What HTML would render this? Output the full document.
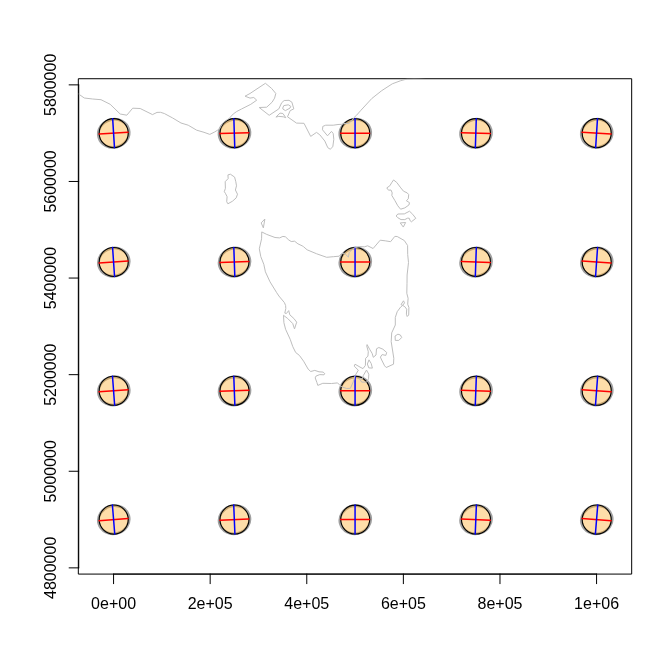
<!DOCTYPE html>
<html><head><meta charset="utf-8"><title>plot</title>
<style>html,body{margin:0;padding:0;background:#fff;}svg{display:block;will-change:transform;}text{font-family:"Liberation Sans",sans-serif;font-size:16px;fill:#000;}</style></head><body>
<svg width="672" height="672" viewBox="0 0 672 672">
<rect x="0" y="0" width="672" height="672" fill="#fff"/>
<g fill="none">
<ellipse cx="113.77" cy="133.31" rx="15.50" ry="14.00" transform="rotate(-15.0 113.77 133.31)" stroke="#a0a0a0" stroke-width="2.8"/>
<circle cx="113.72" cy="133.16" r="14.53" fill="rgb(252,170,40)" fill-opacity="0.4" stroke="#000" stroke-width="1.1"/>
<path d="M99.07 134.07L128.07 132.25" stroke="#f00" stroke-width="1.5" stroke-linecap="round"/>
<path d="M114.48 147.66L112.66 118.66" stroke="#00f" stroke-width="1.5" stroke-linecap="round"/>
<ellipse cx="234.52" cy="133.31" rx="15.50" ry="14.00" transform="rotate(-15.0 234.52 133.31)" stroke="#a0a0a0" stroke-width="2.8"/>
<circle cx="234.47" cy="133.16" r="14.50" fill="rgb(252,170,40)" fill-opacity="0.4" stroke="#000" stroke-width="1.1"/>
<path d="M219.83 133.62L248.81 132.70" stroke="#f00" stroke-width="1.5" stroke-linecap="round"/>
<path d="M234.78 147.65L233.86 118.67" stroke="#00f" stroke-width="1.5" stroke-linecap="round"/>
<ellipse cx="355.27" cy="133.31" rx="15.50" ry="14.00" transform="rotate(-15.0 355.27 133.31)" stroke="#a0a0a0" stroke-width="2.8"/>
<circle cx="355.22" cy="133.16" r="14.48" fill="rgb(252,170,40)" fill-opacity="0.4" stroke="#000" stroke-width="1.1"/>
<path d="M340.59 133.16L369.55 133.16" stroke="#f00" stroke-width="1.5" stroke-linecap="round"/>
<path d="M355.07 147.64L355.07 118.68" stroke="#00f" stroke-width="1.5" stroke-linecap="round"/>
<ellipse cx="476.02" cy="133.31" rx="15.50" ry="14.00" transform="rotate(-15.0 476.02 133.31)" stroke="#a0a0a0" stroke-width="2.8"/>
<circle cx="475.97" cy="133.16" r="14.50" fill="rgb(252,170,40)" fill-opacity="0.4" stroke="#000" stroke-width="1.1"/>
<path d="M461.33 132.70L490.31 133.62" stroke="#f00" stroke-width="1.5" stroke-linecap="round"/>
<path d="M475.36 147.65L476.28 118.67" stroke="#00f" stroke-width="1.5" stroke-linecap="round"/>
<ellipse cx="596.77" cy="133.31" rx="15.50" ry="14.00" transform="rotate(-15.0 596.77 133.31)" stroke="#a0a0a0" stroke-width="2.8"/>
<circle cx="596.72" cy="133.16" r="14.53" fill="rgb(252,170,40)" fill-opacity="0.4" stroke="#000" stroke-width="1.1"/>
<path d="M582.07 132.25L611.07 134.07" stroke="#f00" stroke-width="1.5" stroke-linecap="round"/>
<path d="M595.66 147.66L597.48 118.66" stroke="#00f" stroke-width="1.5" stroke-linecap="round"/>
<ellipse cx="113.77" cy="262.11" rx="15.50" ry="14.00" transform="rotate(-15.0 113.77 262.11)" stroke="#a0a0a0" stroke-width="2.8"/>
<circle cx="113.72" cy="261.96" r="14.53" fill="rgb(252,170,40)" fill-opacity="0.4" stroke="#000" stroke-width="1.1"/>
<path d="M99.08 262.95L128.06 260.97" stroke="#f00" stroke-width="1.5" stroke-linecap="round"/>
<path d="M114.56 276.45L112.58 247.47" stroke="#00f" stroke-width="1.5" stroke-linecap="round"/>
<ellipse cx="234.52" cy="262.11" rx="15.50" ry="14.00" transform="rotate(-15.0 234.52 262.11)" stroke="#a0a0a0" stroke-width="2.8"/>
<circle cx="234.47" cy="261.96" r="14.50" fill="rgb(252,170,40)" fill-opacity="0.4" stroke="#000" stroke-width="1.1"/>
<path d="M219.83 262.46L248.81 261.46" stroke="#f00" stroke-width="1.5" stroke-linecap="round"/>
<path d="M234.82 276.45L233.82 247.47" stroke="#00f" stroke-width="1.5" stroke-linecap="round"/>
<ellipse cx="355.27" cy="262.11" rx="15.50" ry="14.00" transform="rotate(-15.0 355.27 262.11)" stroke="#a0a0a0" stroke-width="2.8"/>
<circle cx="355.22" cy="261.96" r="14.48" fill="rgb(252,170,40)" fill-opacity="0.4" stroke="#000" stroke-width="1.1"/>
<path d="M340.59 261.96L369.55 261.96" stroke="#f00" stroke-width="1.5" stroke-linecap="round"/>
<path d="M355.07 276.44L355.07 247.48" stroke="#00f" stroke-width="1.5" stroke-linecap="round"/>
<ellipse cx="476.02" cy="262.11" rx="15.50" ry="14.00" transform="rotate(-15.0 476.02 262.11)" stroke="#a0a0a0" stroke-width="2.8"/>
<circle cx="475.97" cy="261.96" r="14.50" fill="rgb(252,170,40)" fill-opacity="0.4" stroke="#000" stroke-width="1.1"/>
<path d="M461.33 261.46L490.31 262.46" stroke="#f00" stroke-width="1.5" stroke-linecap="round"/>
<path d="M475.32 276.45L476.32 247.47" stroke="#00f" stroke-width="1.5" stroke-linecap="round"/>
<ellipse cx="596.77" cy="262.11" rx="15.50" ry="14.00" transform="rotate(-15.0 596.77 262.11)" stroke="#a0a0a0" stroke-width="2.8"/>
<circle cx="596.72" cy="261.96" r="14.53" fill="rgb(252,170,40)" fill-opacity="0.4" stroke="#000" stroke-width="1.1"/>
<path d="M582.08 260.97L611.06 262.95" stroke="#f00" stroke-width="1.5" stroke-linecap="round"/>
<path d="M595.58 276.45L597.56 247.47" stroke="#00f" stroke-width="1.5" stroke-linecap="round"/>
<ellipse cx="113.77" cy="390.91" rx="15.50" ry="14.00" transform="rotate(-15.0 113.77 390.91)" stroke="#a0a0a0" stroke-width="2.8"/>
<circle cx="113.72" cy="390.76" r="14.53" fill="rgb(252,170,40)" fill-opacity="0.4" stroke="#000" stroke-width="1.1"/>
<path d="M99.08 391.84L128.06 389.68" stroke="#f00" stroke-width="1.5" stroke-linecap="round"/>
<path d="M114.65 405.25L112.49 376.27" stroke="#00f" stroke-width="1.5" stroke-linecap="round"/>
<ellipse cx="234.52" cy="390.91" rx="15.50" ry="14.00" transform="rotate(-15.0 234.52 390.91)" stroke="#a0a0a0" stroke-width="2.8"/>
<circle cx="234.47" cy="390.76" r="14.50" fill="rgb(252,170,40)" fill-opacity="0.4" stroke="#000" stroke-width="1.1"/>
<path d="M219.83 391.30L248.81 390.22" stroke="#f00" stroke-width="1.5" stroke-linecap="round"/>
<path d="M234.86 405.25L233.78 376.27" stroke="#00f" stroke-width="1.5" stroke-linecap="round"/>
<ellipse cx="355.27" cy="390.91" rx="15.50" ry="14.00" transform="rotate(-15.0 355.27 390.91)" stroke="#a0a0a0" stroke-width="2.8"/>
<circle cx="355.22" cy="390.76" r="14.48" fill="rgb(252,170,40)" fill-opacity="0.4" stroke="#000" stroke-width="1.1"/>
<path d="M340.59 390.76L369.55 390.76" stroke="#f00" stroke-width="1.5" stroke-linecap="round"/>
<path d="M355.07 405.24L355.07 376.28" stroke="#00f" stroke-width="1.5" stroke-linecap="round"/>
<ellipse cx="476.02" cy="390.91" rx="15.50" ry="14.00" transform="rotate(-15.0 476.02 390.91)" stroke="#a0a0a0" stroke-width="2.8"/>
<circle cx="475.97" cy="390.76" r="14.50" fill="rgb(252,170,40)" fill-opacity="0.4" stroke="#000" stroke-width="1.1"/>
<path d="M461.33 390.22L490.31 391.30" stroke="#f00" stroke-width="1.5" stroke-linecap="round"/>
<path d="M475.28 405.25L476.36 376.27" stroke="#00f" stroke-width="1.5" stroke-linecap="round"/>
<ellipse cx="596.77" cy="390.91" rx="15.50" ry="14.00" transform="rotate(-15.0 596.77 390.91)" stroke="#a0a0a0" stroke-width="2.8"/>
<circle cx="596.72" cy="390.76" r="14.53" fill="rgb(252,170,40)" fill-opacity="0.4" stroke="#000" stroke-width="1.1"/>
<path d="M582.08 389.68L611.06 391.84" stroke="#f00" stroke-width="1.5" stroke-linecap="round"/>
<path d="M595.49 405.25L597.65 376.27" stroke="#00f" stroke-width="1.5" stroke-linecap="round"/>
<ellipse cx="113.77" cy="519.71" rx="15.50" ry="14.00" transform="rotate(-15.0 113.77 519.71)" stroke="#a0a0a0" stroke-width="2.8"/>
<circle cx="113.72" cy="519.56" r="14.53" fill="rgb(252,170,40)" fill-opacity="0.4" stroke="#000" stroke-width="1.1"/>
<path d="M99.09 520.73L128.05 518.39" stroke="#f00" stroke-width="1.5" stroke-linecap="round"/>
<path d="M114.74 534.04L112.40 505.08" stroke="#00f" stroke-width="1.5" stroke-linecap="round"/>
<ellipse cx="234.52" cy="519.71" rx="15.50" ry="14.00" transform="rotate(-15.0 234.52 519.71)" stroke="#a0a0a0" stroke-width="2.8"/>
<circle cx="234.47" cy="519.56" r="14.50" fill="rgb(252,170,40)" fill-opacity="0.4" stroke="#000" stroke-width="1.1"/>
<path d="M219.84 520.15L248.80 518.97" stroke="#f00" stroke-width="1.5" stroke-linecap="round"/>
<path d="M234.91 534.04L233.73 505.08" stroke="#00f" stroke-width="1.5" stroke-linecap="round"/>
<ellipse cx="355.27" cy="519.71" rx="15.50" ry="14.00" transform="rotate(-15.0 355.27 519.71)" stroke="#a0a0a0" stroke-width="2.8"/>
<circle cx="355.22" cy="519.56" r="14.48" fill="rgb(252,170,40)" fill-opacity="0.4" stroke="#000" stroke-width="1.1"/>
<path d="M340.59 519.56L369.55 519.56" stroke="#f00" stroke-width="1.5" stroke-linecap="round"/>
<path d="M355.07 534.04L355.07 505.08" stroke="#00f" stroke-width="1.5" stroke-linecap="round"/>
<ellipse cx="476.02" cy="519.71" rx="15.50" ry="14.00" transform="rotate(-15.0 476.02 519.71)" stroke="#a0a0a0" stroke-width="2.8"/>
<circle cx="475.97" cy="519.56" r="14.50" fill="rgb(252,170,40)" fill-opacity="0.4" stroke="#000" stroke-width="1.1"/>
<path d="M461.34 518.97L490.30 520.15" stroke="#f00" stroke-width="1.5" stroke-linecap="round"/>
<path d="M475.23 534.04L476.41 505.08" stroke="#00f" stroke-width="1.5" stroke-linecap="round"/>
<ellipse cx="596.77" cy="519.71" rx="15.50" ry="14.00" transform="rotate(-15.0 596.77 519.71)" stroke="#a0a0a0" stroke-width="2.8"/>
<circle cx="596.72" cy="519.56" r="14.53" fill="rgb(252,170,40)" fill-opacity="0.4" stroke="#000" stroke-width="1.1"/>
<path d="M582.09 518.39L611.05 520.73" stroke="#f00" stroke-width="1.5" stroke-linecap="round"/>
<path d="M595.40 534.04L597.74 505.08" stroke="#00f" stroke-width="1.5" stroke-linecap="round"/>
</g>
<g fill="none" stroke="#000" stroke-width="1" stroke-linecap="round" stroke-linejoin="round">
<rect x="78.72" y="78.72" width="552.96" height="495.36"/>
<path d="M113.57 574.08L596.57 574.08M113.57 574.08L113.57 583.68M210.17 574.08L210.17 583.68M306.77 574.08L306.77 583.68M403.37 574.08L403.37 583.68M499.97 574.08L499.97 583.68M596.57 574.08L596.57 583.68M78.72 567.86L78.72 84.86M78.72 567.86L69.12 567.86M78.72 471.26L69.12 471.26M78.72 374.66L69.12 374.66M78.72 278.06L69.12 278.06M78.72 181.46L69.12 181.46M78.72 84.86L69.12 84.86"/>
</g>
<clipPath id="c"><rect x="78.72" y="78.72" width="552.96" height="495.36"/></clipPath>
<g fill="none" stroke="#bebebe" stroke-width="1" stroke-linejoin="round" stroke-linecap="round" clip-path="url(#c)">
<path d="M78.0 93.6L79.0 94.3L84.3 98.0L92.7 99.0L101.0 99.7L110.2 104.3L120.2 114.0L126.8 115.2L132.7 108.2L140.2 108.5L152.5 114.6L157.0 112.4L160.5 112.3L164.3 113.5L172.7 118.0L181.0 123.0L188.2 125.2L196.7 130.2L204.0 132.3L209.8 134.4L214.8 131.9L219.4 129.0L222.5 123.5L226.0 120.5L229.0 118.6L233.2 114.0L236.7 111.5L241.5 109.0L250.8 104.3L256.7 100.2L253.8 97.5L250.0 98.1L245.0 96.2L250.0 93.5L265.4 83.3L271.7 88.5L275.8 93.5L274.6 98.1L272.1 102.2L266.7 107.2L259.2 107.5L269.2 115.3L278.8 108.9L281.7 102.7L284.2 100.5L289.0 100.3L291.9 102.2L293.8 108.9L290.2 110.6L287.5 116.8L296.5 123.1L304.0 123.3L310.7 136.4L316.5 132.4L319.8 134.8L324.8 141.0L327.8 147.7L330.2 149.2L332.8 146.8L333.8 139.3L333.2 133.5L331.5 131.4L327.5 135.8L322.5 129.8L322.8 126.4L325.7 125.2L333.2 125.2L338.0 124.5L341.6 124.3L345.1 123.4L348.4 123.6L350.1 122.5L352.3 119.9L353.7 117.9L356.6 115.2L361.0 110.2L371.8 98.5L381.8 90.6L392.3 83.8L400.7 80.7L407.3 78.9L419.8 78.2L430.0 77.0"/>
<path d="M282.9 107.7L283.8 105.6L288.3 104.8L290.8 106.4L290.0 108.1L285.4 110.6L283.3 109.3Z"/>
<path d="M276.2 116.8L280.0 113.1L282.9 113.5L285.8 117.7L283.3 116.8L279.2 116.4Z"/>
<path d="M228.3 174.8L230.4 174.2L234.6 177.1L235.8 181.7L236.5 185.8L235.4 190.0L237.5 194.2L236.2 197.9L232.5 201.2L227.9 203.8L226.7 201.7L227.1 196.7L225.4 193.3L224.3 191.7L225.4 188.3L225.2 181.7L227.9 178.8Z"/>
<path d="M393.9 180.2L396.8 182.5L400.2 187.1L403.5 191.2L407.2 192.9L408.7 194.6L408.3 198.8L406.4 200.7L409.5 202.7L408.9 205.0L404.8 207.9L400.6 209.2L397.8 205.8L394.8 200.4L391.8 195.4L392.2 192.9L391.0 190.0L388.5 190.2L386.8 187.9L389.8 185.8L391.8 182.5Z"/>
<path d="M396.4 215.7L397.8 214.0L404.3 213.9L409.5 211.2L412.7 214.3L415.8 218.3L411.4 221.8L410.2 220.8L409.2 218.2L407.5 218.2L404.8 219.6L401.0 219.6L398.1 217.9Z"/>
<path d="M400.6 222.9L405.6 222.5L403.5 226.7Z"/>
<path d="M264.6 219.3L261.2 222.9L263.2 227.5Z"/>
<path d="M262.1 232.1L266.7 234.4L275.0 237.5L279.6 237.9L282.9 236.4L285.4 236.8L288.8 240.0L291.2 241.5L294.6 241.2L297.9 243.8L302.1 245.8L303.3 246.5L307.1 249.8L316.7 253.8L326.7 257.3L333.3 256.7L339.2 256.2L341.2 253.9L344.4 253.1L348.4 257.1L349.2 252.6L352.5 249.1L354.1 248.0L359.4 246.6L364.3 246.8L367.7 245.8L373.1 248.5L380.2 240.2L385.2 240.8L390.6 241.7L394.8 236.4L397.2 236.5L404.3 240.5L407.6 245.5L407.7 254.5L408.5 262.5L407.1 275.0L407.0 283.3L406.8 293.3L408.1 298.3L407.7 304.2L408.9 307.5L408.7 315.0L407.2 316.5L406.4 314.2L406.7 309.2L404.8 306.7L402.7 305.4L404.5 302.9L403.5 300.8L401.0 304.6L402.7 305.4L400.6 307.1L397.2 311.7L395.3 317.5L395.3 325.0L391.7 332.9L391.2 341.7L392.5 350.0L393.8 358.3L393.5 364.2L386.2 367.5L384.6 365.8L381.7 360.0L380.4 357.1L382.1 354.6L385.8 355.4L386.7 352.5L382.9 349.2L378.8 347.5L376.5 348.8L376.0 355.0L373.3 357.3L372.1 353.3L369.6 349.2L367.1 344.6L366.7 345.8L368.3 351.7L367.9 356.2L365.6 358.3L365.4 365.4L363.0 368.6L360.0 367.1L355.0 364.2L354.2 366.1L358.3 370.2L355.0 375.8L353.3 381.7L350.4 388.3L346.7 388.5L342.5 387.1L340.0 385.4L337.6 382.9L331.5 383.5L322.8 383.3L317.8 385.4L316.9 382.5L315.2 377.9L316.1 376.0L319.8 374.6L324.0 374.8L324.8 373.8L323.2 372.1L319.0 371.8L314.8 370.4L310.7 371.5L308.2 369.2L303.6 361.2L299.4 355.4L295.7 352.5L292.8 346.7L290.2 339.3L285.6 329.3L283.9 322.7L283.5 315.3L287.7 318.5L292.7 323.5L294.5 328.9L296.7 322.2L293.9 318.5L289.8 314.8L288.7 310.6L286.4 313.5L284.8 313.1L285.8 308.5L285.6 305.5L284.4 302.6L278.9 296.0L276.7 292.7L270.0 281.8L265.4 271.8L263.8 264.3L260.8 256.7L259.3 248.8L261.5 239.2Z"/>
<path d="M395.4 335.8L397.9 334.2L400.4 335.0L401.7 337.5L398.8 340.4L395.7 340.4Z"/>
<path d="M369.2 360.2L371.2 363.5L372.4 368.1L368.8 367.9L367.5 364.4Z"/>
<path d="M366.7 370.4L368.8 374.2L368.5 378.8L366.7 382.1L361.7 382.1L359.2 378.3L362.5 378.8L363.3 375.8Z"/>
</g>
<text x="113.57" y="608.64" text-anchor="middle">0e+00</text>
<text x="210.17" y="608.64" text-anchor="middle">2e+05</text>
<text x="306.77" y="608.64" text-anchor="middle">4e+05</text>
<text x="403.37" y="608.64" text-anchor="middle">6e+05</text>
<text x="499.97" y="608.64" text-anchor="middle">8e+05</text>
<text x="596.57" y="608.64" text-anchor="middle">1e+06</text>
<text transform="translate(55.68 567.86) rotate(-90)" text-anchor="middle">4800000</text>
<text transform="translate(55.68 471.26) rotate(-90)" text-anchor="middle">5000000</text>
<text transform="translate(55.68 374.66) rotate(-90)" text-anchor="middle">5200000</text>
<text transform="translate(55.68 278.06) rotate(-90)" text-anchor="middle">5400000</text>
<text transform="translate(55.68 181.46) rotate(-90)" text-anchor="middle">5600000</text>
<text transform="translate(55.68 84.86) rotate(-90)" text-anchor="middle">5800000</text>
</svg></body></html>
